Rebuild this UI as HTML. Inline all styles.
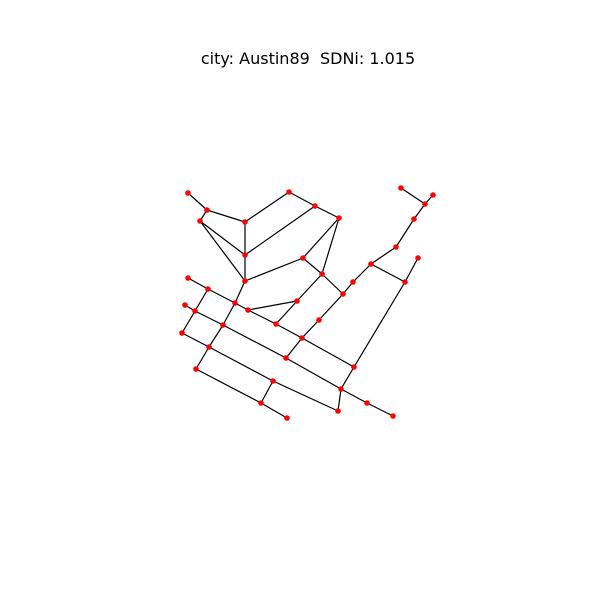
<!DOCTYPE html>
<html><head><meta charset="utf-8"><style>
html,body{margin:0;padding:0;background:#fff;}
svg{display:block;}
</style></head><body>
<svg id="chart" width="600" height="600" viewBox="0 0 600 600" xmlns="http://www.w3.org/2000/svg">
<rect width="600" height="600" fill="#fff"/>
<text x="308" y="64" text-anchor="middle" font-family="DejaVu Sans, Liberation Sans, sans-serif" font-size="16" fill="#000">city: Austin89&#160; SDNi: 1.015</text>
<g id="edges"></g>
<g id="nodes"></g>
</svg>
<script>
const nodeIds = ["A","B","C","D","E","F","G","H","I","J","K","L","M","N","O","P","Q","P2","R","S","T","U","V","W","X","Y","Z","AA","AB","AC","AD","AE","AF","AG","AH","AI","AJ","AK","AL","AM","AN","AO","AP","AQ"];
const nodeX = [188,207,200,245,289,315,339,245,303,322,245,343,188,208,235,248,297,185,195,223,182,276,319,302,209,286,196,354,273,341,261,338,367,393,287,401,433,425,414,396,371,418,405,353];
const nodeY = [193,210,221,222,192,206,218,255,258,274,281,294,278,289,303,310,301,305,311,325,333,324,320,338,347,358,369,367,381,389,403,411,403,416,418,188,195,204,219,247,264,258,282,282];
const edgeFrom = ["A","B","B","C","C","D","D","E","F","F","G","G","I","I","J","J","Q","Q","H","K","M","N","N","O","O","P","U","W","W","V","L","AQ","AN","AM","AL","AK","AK","AN","AP","AP","AA","AC","AC","AF","P2","R","R","S","S","T","X","X","AB","AB","Y","Y","Z","AD"];
const edgeTo   = ["B","C","D","H","K","E","H","F","G","H","I","J","K","J","L","Q","P","U","K","O","N","O","R","S","P","U","W","AA","V","L","AQ","AN","AM","AL","AK","AI","AJ","AP","AO","AA","AC","AE","AF","AG","R","S","T","Y","X","X","Z","AB","AE","AD","AC","W","AD","AH"];
const eg = document.getElementById('edges');
const ng = document.getElementById('nodes');
const NS = "http://www.w3.org/2000/svg";
function px(id){return nodeX[nodeIds.indexOf(id)];}
function py(id){return nodeY[nodeIds.indexOf(id)];}
for (let i=0;i<edgeFrom.length;i++){
  const l=document.createElementNS(NS,'line');
  l.setAttribute('x1',px(edgeFrom[i]));l.setAttribute('y1',py(edgeFrom[i]));
  l.setAttribute('x2',px(edgeTo[i]));l.setAttribute('y2',py(edgeTo[i]));
  l.setAttribute('stroke','#000');l.setAttribute('stroke-width','1.2');
  
  
  eg.appendChild(l);
}
for (let i=0;i<nodeIds.length;i++){
  const c=document.createElementNS(NS,'circle');
  c.setAttribute('cx',nodeX[i]);c.setAttribute('cy',nodeY[i]);c.setAttribute('r','2.8');
  c.setAttribute('fill','#ff0000');
  
  
  ng.appendChild(c);
}
</script>
</body></html>
